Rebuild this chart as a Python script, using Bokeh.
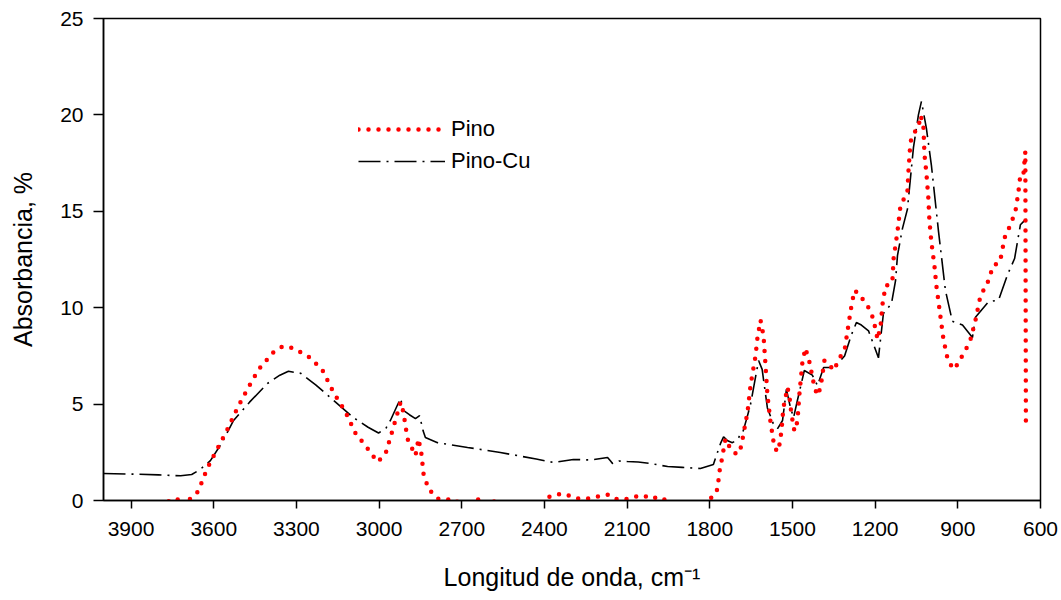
from bokeh.plotting import figure
from bokeh.models import Range1d, FixedTicker, Legend, LegendItem
from bokeh.embed import file_html
from bokeh.resources import INLINE

# Pino-Cu (black dash-dot)
cu_x = [4000, 3900, 3800, 3720, 3680, 3650, 3612, 3570, 3528, 3470, 3405, 3360, 3329, 3285,
        3230, 3165, 3093, 3040, 3002, 2975, 2959, 2935, 2922, 2912, 2890, 2868, 2853, 2840,
        2832, 2788, 2679, 2560, 2498, 2430, 2367, 2295, 2230, 2171, 2160, 2153, 2130, 2099,
        2060, 2015, 1953, 1900, 1834, 1787, 1761, 1750, 1735, 1718, 1700, 1689, 1681, 1665,
        1652, 1623, 1610, 1591, 1570, 1554, 1536, 1522, 1507, 1496, 1482, 1457, 1428, 1409,
        1387, 1347, 1311, 1286, 1268, 1250, 1224, 1188, 1170, 1141, 1126, 1119, 1101, 1083,
        1061, 1043, 1032, 1014, 996, 970, 945, 920, 883, 847, 836, 789, 752, 720, 694, 673,
        659, 650]
cu_y = [1.40, 1.37, 1.33, 1.28, 1.35, 1.6, 2.07, 3.0, 4.15, 5.1, 6.07, 6.5, 6.7, 6.6,
        6.0, 5.19, 4.3, 3.8, 3.5, 3.75, 4.15, 4.9, 5.3, 4.67, 4.45, 4.25, 4.4, 3.6,
        3.27, 3.0, 2.75, 2.49, 2.33, 2.15, 1.97, 2.13, 2.1, 2.23, 2.05, 1.92, 2.05, 2.02,
        2.0, 1.92, 1.76, 1.72, 1.66, 1.87, 2.96, 3.3, 3.1, 3.0, 3.15, 3.42, 3.5, 4.3,
        5.0, 7.26, 6.8, 4.8, 4.0, 3.73, 4.15, 5.76, 4.8, 4.3, 5.2, 6.74, 6.5, 5.96,
        6.9, 6.9, 7.5, 8.6, 9.23, 9.1, 8.8, 7.4, 9.7, 10.2, 11.4, 12.7, 14.1, 15.1,
        18.3, 20.0, 20.7, 19.3, 17.4, 13.95, 10.9, 9.3, 9.1, 8.45, 9.5, 10.3, 10.4, 11.7, 12.55, 14.3,
        14.5, 14.6]

# Pino (red dotted); values below 0 fall outside the axis
pino_x = [3780, 3760, 3730, 3715, 3700, 3690, 3673, 3655, 3637, 3612, 3586, 3550, 3514, 3477, 3437,
          3383, 3350, 3310, 3249, 3205, 3165, 3122, 3086, 3042, 3006, 2977, 2948, 2922, 2912,
          2897, 2868, 2857, 2846, 2839, 2821, 2788, 2759, 2723, 2700, 2665, 2660, 2640, 2625,
          2612, 2600, 2576, 2560, 2420, 2396, 2381, 2360, 2334, 2312, 2280, 2251, 2222, 2189,
          2171, 2149, 2127, 2099, 2070, 2041, 2012, 1986, 1964, 1945, 1830, 1808, 1787, 1772,
          1765, 1758, 1743, 1729, 1710, 1692, 1681, 1663, 1652, 1634, 1627, 1616, 1605, 1598,
          1591, 1580, 1565, 1551, 1540, 1533, 1518, 1511, 1504, 1493, 1482, 1475, 1464, 1453,
          1438, 1420, 1409, 1398, 1384, 1366, 1351, 1326, 1311, 1297, 1286, 1275, 1257, 1239,
          1224, 1213, 1202, 1191, 1180, 1173, 1162, 1144, 1137, 1133, 1119, 1108, 1083, 1079,
          1072, 1057, 1043, 1035, 1025, 1021, 1014, 1007, 1003, 996, 985, 978, 970, 960,
          952, 938, 927, 912, 898, 872, 854, 836, 821, 803, 792, 771, 752, 742,
          731, 709, 691, 680, 673, 662, 655, 653]
pino_y = [-0.5, 0.05, 0.05, -0.3, 0.05, 0.05, 0.2, 0.5, 1.2, 2.0, 2.7, 3.7, 4.8, 5.8, 6.8,
          7.7, 8.0, 7.9, 7.4, 6.74, 5.6, 4.6, 3.5, 2.7, 2.0, 2.4, 3.8, 5.1, 4.6,
          3.2, 2.33, 3.2, 2.38, 1.4, 0.6, 0.1, 0.05, 0.05, -0.4, -0.3, 0.05, 0.05, -0.3,
          0.05, -0.3, 0.05, -0.5, -0.5, 0.05, 0.2, 0.3, 0.36, 0.26, 0.1, 0.08, 0.15, 0.26,
          0.3, 0.1, 0.05, 0.08, 0.2, 0.26, 0.08, 0.2, 0.05, -0.5, -0.5, 0.05, 0.2, 0.6,
          1.5, 2.0, 3.2, 2.8, 2.45, 2.45, 3.2, 4.6, 6.0, 7.5, 8.45, 9.35, 8.55, 7.05,
          5.5, 4.1, 2.7, 2.54, 3.6, 4.8, 5.86, 5.4, 4.5, 3.6, 4.1, 5.5, 7.16, 7.9,
          7.16, 5.86, 5.45, 5.86, 7.26, 7.05, 6.74, 7.47, 7.78, 9.1, 10.1, 10.9, 10.7, 10.3,
          10.0, 9.7, 9.1, 8.35, 9.1, 10.2, 11.15, 11.2, 11.5, 12.55, 13.95, 15.3, 16.0, 17.1,
          18.6, 19.1, 19.35, 19.97, 19.45, 17.95, 16.96, 15.7, 14.5, 13.4, 12.2, 11.15, 10.3, 9.2,
          8.35, 7.4, 7.05, 6.8, 7.16, 7.8, 8.35, 9.35, 10.4, 11.05, 11.3, 12.2, 12.3, 12.7,
          13.6, 14.3, 15.0, 16.0, 16.9, 16.9, 18.1, 4.0]

x_ticks = [3900, 3600, 3300, 3000, 2700, 2400, 2100, 1800, 1500, 1200, 900, 600]
y_ticks = [0, 5, 10, 15, 20, 25]

FONT = "Liberation Sans"

p = figure(width=1061, height=600, output_backend="svg", toolbar_location=None,
           x_range=Range1d(4000, 600), y_range=Range1d(0, 25),
           min_border_left=103, min_border_right=21, min_border_top=18, min_border_bottom=100)
p.background_fill_color = "white"
p.border_fill_color = "white"
p.outline_line_color = "black"
p.outline_line_width = 1.5
p.xgrid.visible = False
p.ygrid.visible = False

for ax in (p.xaxis, p.yaxis):
    ax.axis_line_color = "black"
    ax.axis_line_width = 1.5
    ax.major_tick_line_width = 1.5
    ax.major_tick_in = 0
    ax.minor_tick_line_color = None
    ax.major_label_text_font = FONT
    ax.major_label_text_font_size = "21px"
    ax.major_label_text_color = "black"
    ax.axis_label_text_font = FONT
    ax.axis_label_text_font_size = "25px"
    ax.axis_label_text_font_style = "normal"
    ax.axis_label_text_color = "black"

p.xaxis.ticker = FixedTicker(ticks=x_ticks)
p.yaxis.ticker = FixedTicker(ticks=y_ticks)
p.xaxis.major_tick_out = 8
p.yaxis.major_tick_out = 10
p.xaxis.major_label_standoff = 13
p.yaxis.major_label_standoff = 10
p.xaxis.axis_label = "Longitud de onda, cm\u207b\u00b9"
p.yaxis.axis_label = "Absorbancia, %"
p.xaxis.axis_label_standoff = 24
p.yaxis.axis_label_standoff = 20

r_cu = p.line(cu_x, cu_y, line_color="black", line_width=1.6, line_dash="22 6 2 6")
r_pino = p.line(pino_x, pino_y, line_color="red", line_width=4.5, line_dash="0 10",
                line_cap="round")

legend = Legend(items=[LegendItem(label="Pino", renderers=[r_pino]),
                       LegendItem(label="Pino-Cu", renderers=[r_cu])],
                location=(255, 323), orientation="vertical")
legend.background_fill_alpha = 0
legend.border_line_color = None
legend.padding = 0
legend.margin = 0
legend.spacing = 0
legend.glyph_width = 87
legend.glyph_height = 32
legend.label_height = 32
legend.label_standoff = 6
legend.label_text_font = FONT
legend.label_text_font_size = "22px"
legend.label_text_color = "black"
p.add_layout(legend, "center")

open("out.html", "w").write(file_html(p, INLINE))
